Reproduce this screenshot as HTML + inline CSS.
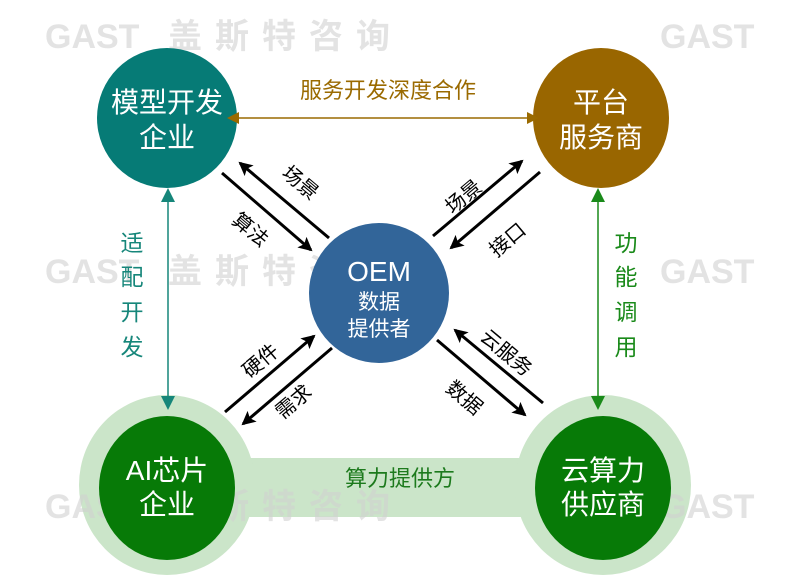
<!DOCTYPE html>
<html><head><meta charset="utf-8"><style>
html,body{margin:0;padding:0;background:#fff}
svg{display:block}
text{font-family:"Liberation Sans","Noto Sans CJK SC",sans-serif}
</style></head><body>
<svg width="800" height="587" viewBox="0 0 800 587" xmlns="http://www.w3.org/2000/svg">
<defs>
<marker id="ab" markerWidth="12" markerHeight="12" refX="10" refY="6" orient="auto-start-reverse" markerUnits="userSpaceOnUse"><path d="M0,0 L12,6 L0,12 Z" fill="#9a6a00"/></marker>
<marker id="at" markerWidth="14" markerHeight="14" refX="12" refY="7" orient="auto-start-reverse" markerUnits="userSpaceOnUse"><path d="M0,0 L14,7 L0,14 Z" fill="#16867a"/></marker>
<marker id="ag" markerWidth="14" markerHeight="14" refX="12" refY="7" orient="auto-start-reverse" markerUnits="userSpaceOnUse"><path d="M0,0 L14,7 L0,14 Z" fill="#1a8a1a"/></marker>
<marker id="ab2" markerWidth="14" markerHeight="14" refX="12" refY="7" orient="auto" markerUnits="userSpaceOnUse"><path d="M0,0 L14,7 L0,14 L3,7 Z" fill="#000"/></marker>
</defs>
<!-- bottom band -->
<rect x="200" y="458" width="400" height="59" fill="#cbe5c9"/>
<ellipse cx="167" cy="485" rx="88" ry="90" fill="#cbe5c9"/>
<ellipse cx="603" cy="485" rx="88" ry="90" fill="#cbe5c9"/>
<!-- watermarks -->
<g fill="#d0d0d0" fill-opacity="0.6" font-weight="bold" font-size="34">
<text x="45" y="48">GAST</text><text x="45" y="283">GAST</text><text x="45" y="518">GAST</text>
<text x="168" y="48" letter-spacing="13">盖斯特咨询</text>
<text x="168" y="283" letter-spacing="13">盖斯特咨询</text>
<text x="168" y="518" letter-spacing="13">盖斯特咨询</text>
<text x="660" y="48">GAST</text>
<text x="660" y="283">GAST</text>
<text x="660" y="518">GAST</text>
</g>
<ellipse cx="167" cy="488" rx="68" ry="72" fill="#077a07"/>
<ellipse cx="603" cy="488" rx="68" ry="72" fill="#077a07"/>
<text x="400" y="486" font-size="22" fill="#1d7a1d" text-anchor="middle">算力提供方</text>
<!-- top circles -->
<ellipse cx="167" cy="118" rx="70" ry="70" fill="#067b76"/>
<ellipse cx="601" cy="118" rx="68" ry="70" fill="#996600"/>
<circle cx="379" cy="293" r="70" fill="#326599"/>
<!-- top arrow -->
<line x1="229" y1="118" x2="537" y2="118" stroke="#9a6a00" stroke-width="1.5" marker-start="url(#ab)" marker-end="url(#ab)"/>
<text x="388" y="98" font-size="22" fill="#9a6a00" text-anchor="middle">服务开发深度合作</text>
<!-- vertical arrows -->
<line x1="168" y1="190" x2="168" y2="408" stroke="#16867a" stroke-width="1.5" marker-start="url(#at)" marker-end="url(#at)"/>
<line x1="598" y1="190" x2="598" y2="408" stroke="#1a8a1a" stroke-width="1.5" marker-start="url(#ag)" marker-end="url(#ag)"/>
<g font-size="23" fill="#16867a" text-anchor="middle">
<text x="132" y="251">适</text><text x="132" y="285">配</text><text x="132" y="320">开</text><text x="132" y="355">发</text>
</g>
<g font-size="23" fill="#1a8a1a" text-anchor="middle">
<text x="626" y="251">功</text><text x="626" y="285">能</text><text x="626" y="320">调</text><text x="626" y="355">用</text>
</g>
<!-- diagonal arrows -->
<g stroke="#000" stroke-width="3" fill="none">
<line x1="329" y1="238" x2="240" y2="163" marker-end="url(#ab2)"/>
<line x1="222" y1="173" x2="311" y2="250" marker-end="url(#ab2)"/>
<line x1="433" y1="236" x2="522" y2="161" marker-end="url(#ab2)"/>
<line x1="540" y1="172" x2="451" y2="248" marker-end="url(#ab2)"/>
<line x1="225" y1="412" x2="314" y2="336" marker-end="url(#ab2)"/>
<line x1="332" y1="348" x2="243" y2="424" marker-end="url(#ab2)"/>
<line x1="543" y1="403" x2="455" y2="330" marker-end="url(#ab2)"/>
<line x1="437" y1="340" x2="525" y2="415" marker-end="url(#ab2)"/>
</g>
<g font-size="20" fill="#000" text-anchor="middle">
<text transform="translate(296,188) rotate(40)">场景</text>
<text transform="translate(246,235) rotate(40)">算法</text>
<text transform="translate(468,202) rotate(-40)">场景</text>
<text transform="translate(512,245) rotate(-40)">接口</text>
<text transform="translate(265,366) rotate(-40)">硬件</text>
<text transform="translate(298,407) rotate(-40)">需求</text>
<text transform="translate(502,358) rotate(40)">云服务</text>
<text transform="translate(460,403) rotate(40)">数据</text>
</g>
<!-- node labels -->
<g fill="#fff" text-anchor="middle">
<text x="167" y="112" font-size="28">模型开发</text>
<text x="167" y="147" font-size="28">企业</text>
<text x="601" y="112" font-size="28">平台</text>
<text x="601" y="147" font-size="28">服务商</text>
<text x="379" y="281" font-size="28">OEM</text>
<text x="379" y="309" font-size="21">数据</text>
<text x="379" y="336" font-size="21">提供者</text>
<text x="167" y="480" font-size="28">AI芯片</text>
<text x="167" y="514" font-size="28">企业</text>
<text x="603" y="480" font-size="28">云算力</text>
<text x="603" y="514" font-size="28">供应商</text>
</g>
</svg>
</body></html>
